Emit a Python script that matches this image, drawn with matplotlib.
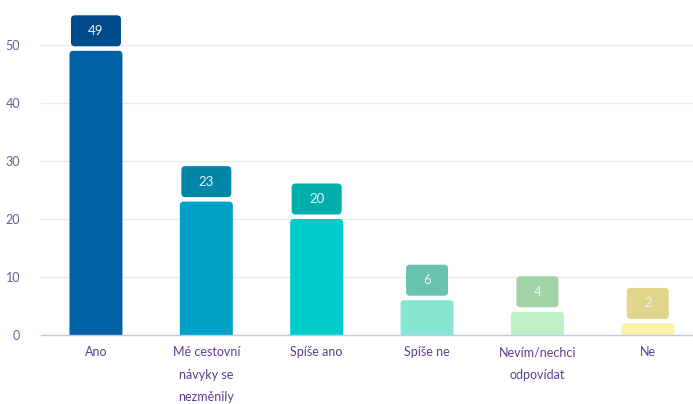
import matplotlib
matplotlib.use("Agg")
import matplotlib.pyplot as plt
import matplotlib.transforms as mtransforms
from matplotlib.patches import FancyBboxPatch

# data
categories = ["Ano", "Mé cestovní\nnávyky se\nnezměnily", "Spíše ano",
              "Spíše ne", "Nevím/nechci\nodpovídat", "Ne"]
values = [49, 23, 20, 6, 4, 2]
bar_colors = ["#0061a4", "#00a1c6", "#00cdc9", "#88e5d2", "#bcf1c8", "#fff1a9"]
label_colors = ["#004b8c", "#0087a8", "#00aeab", "#6ac3af", "#a0d3a5", "#e1d48b"]
yticks = [0, 10, 20, 30, 40, 50]

plt.rcParams['font.family'] = ['Lato', 'DejaVu Sans']

fig = plt.figure(figsize=(6.93, 4.04), dpi=100)
ax = fig.add_axes([41 / 693, 69 / 404, 652 / 693, 335 / 404])
ax.set_xlim(-0.498, 5.41)
ax.set_ylim(0, 335 / 5.8)

# rounded bars, same corner radius in pixels on both axes
fig.canvas.draw()
px_x = ax.transData.transform((1, 0))[0] - ax.transData.transform((0, 0))[0]
px_y = ax.transData.transform((0, 1))[1] - ax.transData.transform((0, 0))[1]
aspect = px_x / px_y
bar_w = 0.48
for i, (v, c) in enumerate(zip(values, bar_colors)):
    p = FancyBboxPatch((i - bar_w / 2, -2), bar_w, v + 2,
                       boxstyle="round,pad=0,rounding_size=0.035",
                       mutation_aspect=aspect, fc=c, ec="none", zorder=3)
    ax.add_patch(p)

# value labels in boxes above bars (box sizes in inches)
for i, (v, c) in enumerate(zip(values, label_colors)):
    txt = str(v)
    w = 0.34 + 0.08 * len(txt)
    h = 0.31
    gap = 0.045
    tr = fig.dpi_scale_trans + mtransforms.ScaledTranslation(i, v, ax.transData)
    box = FancyBboxPatch((-w / 2, gap), w, h,
                         boxstyle="round,pad=0,rounding_size=0.04",
                         fc=c, ec="none", transform=tr, zorder=4)
    ax.add_patch(box)
    ax.text(0, gap + h / 2, txt, transform=tr, ha="center", va="center",
            color="#eef3fa", fontsize=9.5, zorder=5)

ax.set_yticks(yticks)
ax.set_xticks(range(len(categories)))
ax.set_xticklabels(categories, linespacing=2.05, va="top")
ax.tick_params(axis="y", length=0, pad=15, labelsize=9, labelcolor="#6b5b9c")
ax.tick_params(axis="x", length=0, pad=8, labelsize=9, labelcolor="#5a3f90")
ax.grid(axis="y", color="#ebebeb", linewidth=1, zorder=0)
ax.set_axisbelow(True)
for s in ["top", "right", "left"]:
    ax.spines[s].set_visible(False)
ax.spines["bottom"].set_color("#c6c9ea")
ax.spines["bottom"].set_linewidth(1)
ax.spines["bottom"].set_zorder(6)

fig.savefig("out.png", dpi=100)
